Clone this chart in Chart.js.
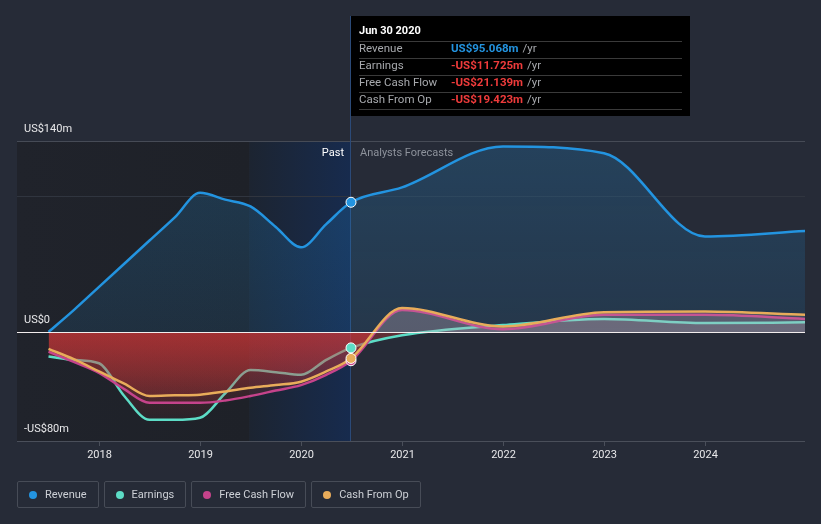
<!DOCTYPE html>
<html>
<head>
<meta charset="utf-8">
<script src="https://cdn.jsdelivr.net/npm/chart.js@4"></script>
<style>
  body { margin: 0; background: #262b37; font-family: Roboto, sans-serif; }
  #wrap { position: relative; width: 821px; height: 524px; }
  #legend { position: absolute; left: 17px; top: 481px; display: flex; gap: 5px; }
  .item { height: 25px; border: 1px solid #474c57; border-radius: 2px; display: flex; align-items: center; padding: 0 11px 0 11px; color: #cdd0d6; font-size: 11px; }
  .dot { width: 8px; height: 8px; border-radius: 50%; margin-right: 8px; }
</style>
</head>
<body>
<div id="wrap">
  <canvas id="stats" width="821" height="524"></canvas>
  <div id="legend"></div>
</div>
<script>
// past: quarterly trailing-twelve-month figures (US$m)
const pastX = [2017.5, 2017.75, 2018, 2018.25, 2018.5, 2018.75, 2019, 2019.25, 2019.5, 2019.75, 2020, 2020.25, 2020.495];
const revenuePast  = [0, 16, 33, 50, 67, 84, 102, 97, 92, 77, 62, 79, 95.068];
const earningsPast = [-18, -20.5, -23, -47, -64.5, -64.5, -63, -45, -28, -29.5, -31.5, -20.5, -11.725];
const fcfPast      = [-14.5, -22, -30, -42, -52, -52, -52, -50.3, -47, -43, -39, -31.5, -21.139];
const cfoPast      = [-12.5, -20, -29, -38, -47, -46.5, -46, -43.7, -41, -39, -36.5, -29, -19.423];

// analyst forecasts
const fcX = [2020.495, 2021, 2022, 2023, 2024, 2025];
const revenueFc  = [95.068, 106, 136, 131, 70, 74];
const earningsFc = [-11.725, -2.5, 5, 9.5, 6.5, 7];
const fcfFc      = [-21.139, 16, 2, 12.5, 12.5, 9.5];
const cfoFc      = [-19.423, 17.5, 4, 14.5, 15, 12.5];

const xTicks = [2018, 2019, 2020, 2021, 2022, 2023, 2024];
const yLabels = [[140, 'US$140m'], [0, 'US$0'], [-80, '-US$80m']];
const gridAt = [140, 100];
const nowX = 2020.495;
const pastStart = 2019.49;

const names = ['Revenue', 'Earnings', 'Free Cash Flow', 'Cash From Op'];
const colors = ['#2394e0', '#5ddcc6', '#c5438b', '#e8ac5a'];
const tip = ['US$95.068m', '-US$11.725m', '-US$21.139m', '-US$19.423m'];

function series(px, pv, fx, fv) {
  const pts = px.map((x, i) => ({x: x, y: pv[i]}));
  fx.slice(1).forEach((x, i) => pts.push({x: x, y: fv[i + 1]}));
  return pts;
}

const all = [
  series(pastX, revenuePast, fcX, revenueFc),
  series(pastX, earningsPast, fcX, earningsFc),
  series(pastX, fcfPast, fcX, fcfFc),
  series(pastX, cfoPast, fcX, cfoFc)
];
const nowIdx = pastX.length - 1;

const font = 'Roboto, sans-serif';

const backdrop = {
  id: 'backdrop',
  beforeDatasetsDraw(chart) {
    const {ctx, chartArea: a, scales: {x, y}} = chart;
    const xNow = x.getPixelForValue(nowX), xP = x.getPixelForValue(pastStart);
    ctx.save();
    let g = ctx.createLinearGradient(a.left, 0, xP, 0);
    g.addColorStop(0, '#20232b'); g.addColorStop(1, '#1e2128');
    ctx.fillStyle = g;
    ctx.fillRect(a.left, a.top, xP - a.left, a.bottom - a.top);
    g = ctx.createLinearGradient(xP, 0, xNow, 0);
    g.addColorStop(0, '#1c2431'); g.addColorStop(1, '#172b4e');
    ctx.fillStyle = g;
    ctx.fillRect(xP, a.top, xNow - xP, a.bottom - a.top);
    gridAt.forEach((v, i) => {
      const yy = Math.round(y.getPixelForValue(v)) + 0.5;
      ctx.strokeStyle = i == 0 ? '#464b56' : '#30353f';
      ctx.lineWidth = 1;
      ctx.beginPath(); ctx.moveTo(a.left, yy); ctx.lineTo(a.right, yy); ctx.stroke();
    });
    ctx.strokeStyle = '#2b4a78';
    ctx.beginPath(); ctx.moveTo(Math.round(xNow) - 0.5, 16); ctx.lineTo(Math.round(xNow) - 0.5, a.bottom); ctx.stroke();
    ctx.restore();
  },
  afterDatasetsDraw(chart) {
    const {ctx, chartArea: a, scales: {x, y}} = chart;
    ctx.save();
    const y0 = Math.round(y.getPixelForValue(0)) + 0.5;
    ctx.strokeStyle = '#f2eded'; ctx.lineWidth = 1;
    ctx.beginPath(); ctx.moveTo(a.left, y0); ctx.lineTo(a.right, y0); ctx.stroke();

    // markers at the latest reported figure
    [0, 2, 3, 1].forEach(i => {
      const p = chart.getDatasetMeta(i).data[nowIdx];
      ctx.beginPath(); ctx.arc(p.x, p.y, 5, 0, Math.PI * 2);
      ctx.fillStyle = colors[i]; ctx.fill();
      ctx.strokeStyle = '#ffffff'; ctx.lineWidth = 1; ctx.stroke();
    });

    ctx.strokeStyle = '#4a4f5a';
    ctx.beginPath(); ctx.moveTo(a.left, a.bottom + 0.5); ctx.lineTo(a.right, a.bottom + 0.5); ctx.stroke();
    ctx.font = '11px ' + font; ctx.fillStyle = '#e8e8ea';
    ctx.textAlign = 'center'; ctx.textBaseline = 'middle';
    xTicks.forEach(t => {
      const xx = Math.round(x.getPixelForValue(t)) + 0.5;
      ctx.beginPath(); ctx.moveTo(xx, a.bottom); ctx.lineTo(xx, a.bottom + 5); ctx.stroke();
      ctx.fillText(String(t), xx, a.bottom + 14);
    });
    ctx.textAlign = 'left';
    yLabels.forEach(([v, s]) => ctx.fillText(s, 24, y.getPixelForValue(v) - 12));
    const xNow = x.getPixelForValue(nowX);
    ctx.textAlign = 'right'; ctx.fillStyle = '#ffffff';
    ctx.fillText('Past', xNow - 7, a.top + 12);
    ctx.textAlign = 'left'; ctx.fillStyle = '#8d929b';
    ctx.fillText('Analysts Forecasts', xNow + 9, a.top + 12);

    // tooltip box
    const bx = Math.round(xNow), by = 16;
    ctx.fillStyle = '#000000';
    ctx.fillRect(bx, by, 339, 100);
    ctx.fillStyle = '#ffffff'; ctx.font = 'bold 11px ' + font;
    ctx.fillText('Jun 30 2020', bx + 8, by + 15);
    ctx.strokeStyle = '#3a3a3a';
    for (let i = 0; i < 5; i++) {
      const ly = by + 25.5 + i * 17;
      ctx.beginPath(); ctx.moveTo(bx + 8, ly); ctx.lineTo(bx + 331, ly); ctx.stroke();
    }
    names.forEach((n, i) => {
      const ly = by + 33 + i * 17;
      ctx.font = '11.5px ' + font; ctx.fillStyle = '#a7a9ad';
      ctx.fillText(n, bx + 8, ly);
      ctx.font = 'bold 11.5px ' + font;
      ctx.fillStyle = i == 0 ? '#2394e0' : '#ef3b3b';
      ctx.fillText(tip[i], bx + 100, ly);
      const w = ctx.measureText(tip[i]).width;
      ctx.font = '11.5px ' + font; ctx.fillStyle = '#a7a9ad';
      ctx.fillText('/yr', bx + 104 + w, ly);
    });
    ctx.restore();
  }
};

function negFill(ctx) {
  const c = ctx.chart, a = c.chartArea;
  if (!a) return 'rgba(0,0,0,0)';
  const y0 = c.scales.y.getPixelForValue(0);
  const g = c.ctx.createLinearGradient(0, y0, 0, a.bottom - 20);
  g.addColorStop(0, 'rgba(215,55,55,0.34)');
  g.addColorStop(1, 'rgba(215,55,55,0.06)');
  return g;
}
function revFill(ctx) {
  const c = ctx.chart, a = c.chartArea;
  if (!a) return 'rgba(0,0,0,0)';
  const g = c.ctx.createLinearGradient(0, a.top, 0, c.scales.y.getPixelForValue(0));
  g.addColorStop(0, 'rgba(35,148,224,0.22)');
  g.addColorStop(1, 'rgba(35,148,224,0.12)');
  return g;
}

const datasets = all.map((pts, i) => ({
  label: names[i],
  data: pts,
  borderColor: colors[i],
  borderWidth: 2.5,
  cubicInterpolationMode: 'monotone',
  pointRadius: 0,
  fill: i == 0 ? {target: 'origin', above: revFill, below: 'rgba(0,0,0,0)'}
               : {target: 'origin', above: 'rgba(200,175,190,0.17)', below: negFill},
  order: i == 0 ? 4 : 3 - i
}));

new Chart('stats', {
  type: 'line',
  data: {datasets: datasets},
  options: {
    responsive: false,
    animation: false,
    events: [],
    layout: {padding: {left: 17, right: 16, top: 141, bottom: 83}},
    plugins: {legend: {display: false}, tooltip: {enabled: false}},
    scales: {
      x: {type: 'linear', display: false, min: 2017.188, max: 2024.99},
      y: {display: false, min: -80, max: 140}
    }
  },
  plugins: [backdrop]
});

document.getElementById('legend').innerHTML = names.map((n, i) =>
  '<div class="item"><span class="dot" style="background:' + colors[i] + '"></span>' + n + '</div>').join('');
</script>
</body>
</html>
